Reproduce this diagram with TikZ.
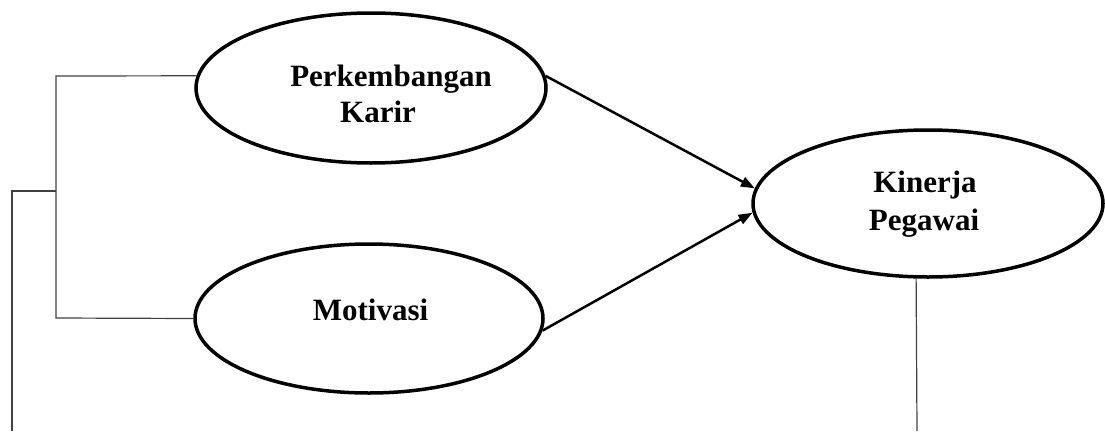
\documentclass[tikz,border=0pt]{standalone}
\usepackage{fontspec}
\setmainfont{Liberation Serif}
\usetikzlibrary{shapes.geometric,arrows.meta}
\tikzset{
  construct/.style={ellipse, draw=black, line width=3.5pt, inner sep=0pt,
    minimum width=350pt, minimum height=150pt},
  word/.style={inner sep=0pt, anchor=base, font=\fontsize{31}{36}\selectfont\bfseries},
  path/.style={-{Triangle[length=14pt,width=10pt]}, line width=2.5pt},
  link/.style={line width=1.2pt, draw=black!75},
}
\begin{document}
\begin{tikzpicture}[x=1pt,y=-1pt]
  \useasboundingbox (0,0) rectangle (1105,431);

  % latent constructs
  \node[construct] (karir) at (371,88) {};
  \node[construct, minimum width=348pt, minimum height=149pt] (motiv) at (369,318.5) {};
  \node[construct, minimum height=147pt] (kinerja) at (928,203.5) {};

  % construct names
  \node[word] (karir1) at (391,86) {Perkembangan};
  \node[word] (karir2) at (378,122) {Karir};
  \node[word] (motiv1) at (370.5,320) {Motivasi};
  \node[word] (kin1) at (925,192) {Kinerja};
  \node[word] (kin2) at (924,230) {Pegawai};

  % structural paths
  \draw[path] (karir.4) -- (kinerja.175.6);
  \draw[path] (motiv.356.4) -- (kinerja.183);

  % bracket joining the two predictors
  \coordinate (jtop) at (56,76);
  \coordinate (jbot) at (56,318);
  \coordinate (jmid) at (56,191);
  \coordinate (lcorner) at (12,191);
  \coordinate (lend) at (12,431);
  \coordinate (rend) at (917,431);
  \draw[link] (karir.176) -- (jtop) -- (jbot) -- (motiv.west);
  \draw[link] (jmid) -- (lcorner) -- (lend);
  \draw[link] (kinerja.261.5) -- (rend);
\end{tikzpicture}
\end{document}
